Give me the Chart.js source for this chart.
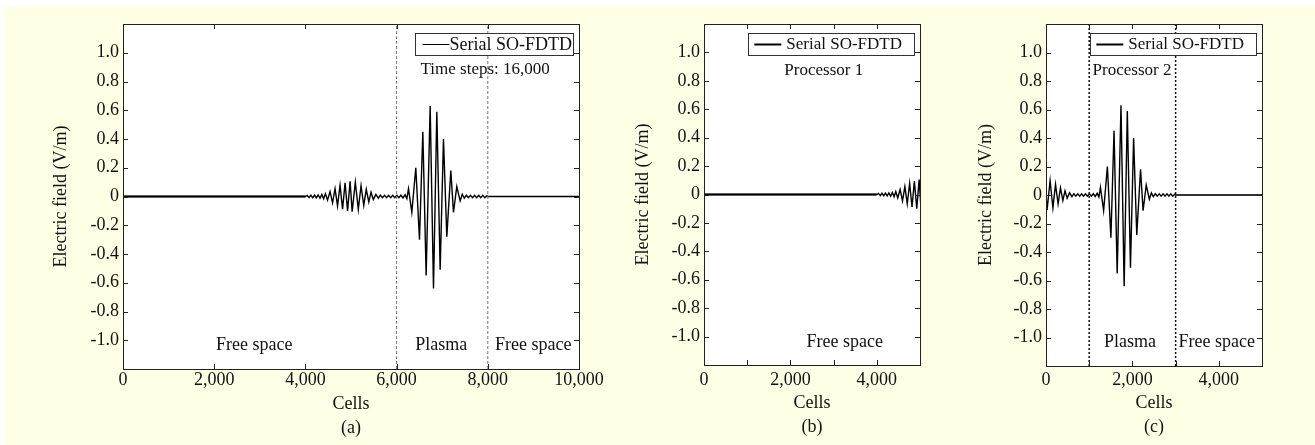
<!DOCTYPE html>
<html>
<head>
<meta charset="utf-8">
<script src="https://cdn.jsdelivr.net/npm/chart.js@4/dist/chart.umd.min.js"></script>
<style>
  html, body { margin: 0; padding: 0; background: #fff; }
  #page { position: relative; width: 1315px; height: 445px; overflow: hidden; }
  #paper { position: absolute; left: 4px; top: 7px; right: 0; bottom: 0; background: #ffffe6; }
  canvas { position: absolute; top: 0; }
</style>
</head>
<body>
<div id="page">
  <div id="paper"></div>
  <canvas id="pa" width="620" height="445" style="left:0px"></canvas>
  <canvas id="pb" width="320" height="445" style="left:620px"></canvas>
  <canvas id="pc" width="375" height="445" style="left:940px"></canvas>
</div>
<script>
// Serial SO-FDTD snapshot at time step 16,000 over the whole 10,000-cell grid
// (cell index, field value) at the wave extremes
const cells = [
  0, 4000, 4040, 4080, 4120, 4160, 4200, 4240, 4280, 4320, 4360, 4400, 4440,
  4485, 4540, 4595, 4650, 4705, 4760, 4815, 4870, 4925, 4980, 5025, 5095,
  5160, 5220, 5280, 5335, 5390, 5440, 5490, 5545, 5600, 5645, 5690, 5735,
  5780, 5825, 5870, 5915, 5960, 6005, 6050, 6095, 6140, 6185, 6225,
  6261, 6334, 6421, 6502, 6575, 6648, 6736, 6809, 6882, 6955, 7028, 7101,
  7189, 7247, 7320, 7393, 7440, 7485, 7530, 7575, 7620, 7665, 7710, 7755,
  7800, 7845, 7890, 7935, 7980, 8000, 10000
];
const field = [
  0, 0, 0.008, -0.008, 0.009, -0.009, 0.01, -0.01, 0.011, -0.012, 0.014, -0.016, 0.02,
  -0.025, 0.035, -0.045, 0.055, -0.065, 0.078, -0.088, 0.095, -0.1, 0.105, -0.105, 0.1,
  -0.09, 0.075, -0.062, 0.05, -0.038, 0.03, -0.022, 0.015, -0.012, 0.009, -0.008, 0.008,
  -0.008, 0.008, -0.008, 0.008, -0.008, 0.008, -0.008, 0.009, -0.01, 0.012, -0.015,
  0.054, -0.11, 0.2, -0.3, 0.45, -0.55, 0.63, -0.64, 0.59, -0.51, 0.4, -0.28,
  0.18, -0.11, 0.07, -0.03, 0.015, -0.012, 0.009, -0.008, 0.008, -0.008, 0.008, -0.008,
  0.008, -0.008, 0.008, -0.008, 0.005, 0, 0
];

// region boundaries (cells) for each panel
const boundsA = [6000, 8000];
const boundsC = [1000, 3000];

const yTickLabels = ['-1.0', '-0.8', '-0.6', '-0.4', '-0.2', '0', '0.2', '0.4', '0.6', '0.8', '1.0'];

const FONT = "'Liberation Serif', 'Times New Roman', Times, serif";
Chart.defaults.font.family = FONT;
Chart.defaults.font.size = 18;
Chart.defaults.color = '#111';

const framePlugin = {
  id: 'frame',
  beforeDraw(chart) {
    const { ctx, chartArea: a } = chart;
    ctx.save();
    ctx.fillStyle = '#fff';
    ctx.fillRect(a.left, a.top, a.right - a.left, a.bottom - a.top);
    ctx.restore();
  },
  afterDatasetsDraw(chart, args, o) {
    const { ctx, chartArea: a, scales: { x, y } } = chart;
    ctx.save();
    ctx.strokeStyle = '#222';
    ctx.lineWidth = 1;
    ctx.beginPath();
    x.ticks.forEach(t => {
      if (t.value <= x.min || t.value >= x.max) return;
      const px = Math.round(x.getPixelForValue(t.value)) + 0.5;
      ctx.moveTo(px, a.bottom); ctx.lineTo(px, a.bottom - 5);
      ctx.moveTo(px, a.top); ctx.lineTo(px, a.top + 5);
    });
    y.ticks.forEach(t => {
      if (t.value <= y.min + 1e-6 || t.value >= y.max - 1e-6) return;
      const py = Math.round(y.getPixelForValue(t.value)) + 0.5;
      ctx.moveTo(a.left, py); ctx.lineTo(a.left + 5, py);
      ctx.moveTo(a.right, py); ctx.lineTo(a.right - 5, py);
    });
    ctx.stroke();
    ctx.strokeRect(Math.round(a.left) + 0.5, Math.round(a.top) + 0.5,
      Math.round(a.right - a.left), Math.round(a.bottom - a.top));

    // region notes
    ctx.fillStyle = '#111';
    ctx.textAlign = 'center';
    ctx.textBaseline = 'middle';
    o.notes.forEach(n => {
      ctx.font = n.size + 'px ' + FONT;
      ctx.fillText(n.text, x.getPixelForValue(n.x), y.getPixelForValue(n.y));
    });

    // legend box
    const L = o.legend;
    ctx.font = L.size + 'px ' + FONT;
    const tw = ctx.measureText(L.text).width;
    const w = L.padL + L.sample + L.gap + tw + L.padR;
    const right = Math.round(a.right) - 6, top = Math.round(a.top) + 9, h = 22;
    const left = right - w;
    ctx.fillStyle = '#fff';
    ctx.fillRect(left, top, w, h);
    ctx.strokeStyle = '#333';
    ctx.lineWidth = 1;
    ctx.strokeRect(Math.round(left) + 0.5, top + 0.5, Math.round(w), h);
    ctx.strokeStyle = '#000';
    ctx.lineWidth = L.lineW;
    ctx.beginPath();
    ctx.moveTo(left + L.padL, top + h / 2 + 0.5);
    ctx.lineTo(left + L.padL + L.sample, top + h / 2 + 0.5);
    ctx.stroke();
    ctx.fillStyle = '#111';
    ctx.textAlign = 'left';
    ctx.fillText(L.text, left + L.padL + L.sample + L.gap, top + h / 2 + 1);
    ctx.restore();
  }
};

function makePanel(id, P) {
  const pts = [];
  cells.forEach((c, i) => {
    const xv = c - P.offset;
    if (xv >= -200 && xv <= P.xMax + 200) pts.push({ x: xv, y: field[i] });
  });
  const bold = pts.filter(p => p.x >= P.bold[0] && p.x <= P.bold[1]);
  const datasets = [
    { data: pts, borderColor: '#000', borderWidth: 1.4, pointRadius: 0, tension: 0, order: 2 },
    { data: bold, borderColor: P.boldColor, borderWidth: 2, pointRadius: 0, tension: 0, order: 1 }
  ];
  P.bounds.forEach(b => datasets.push({
    data: [{ x: b, y: -1.2 }, { x: b, y: 1.2 }],
    borderColor: P.boundColor, borderWidth: P.boundWidth, borderDash: P.boundDash,
    pointRadius: 0, order: 0
  }));

  new Chart(document.getElementById(id), {
    type: 'line',
    data: { datasets },
    options: {
      responsive: false,
      animation: false,
      events: [],
      layout: { padding: { left: 0, top: 24, right: P.padRight, bottom: 0 } },
      plugins: {
        legend: { display: false },
        tooltip: { enabled: false },
        frame: { notes: P.notes, legend: P.legend }
      },
      scales: {
        x: {
          type: 'linear', min: 0, max: P.xMax,
          afterFit: s => { s.height = P.xAxisH; },
          grid: { display: false, drawTicks: false },
          border: { display: false },
          ticks: {
            stepSize: P.xStep, autoSkip: false, maxRotation: 0, padding: P.xLabelPad,
            callback: v => (v % 2000 ? '' : v.toLocaleString('en-US'))
          },
          title: {
            display: true, text: ['Cells', P.caption],
            padding: { top: 0, bottom: P.captionPad },
            font: { size: 18, lineHeight: 24 / 18 }
          }
        },
        y: {
          type: 'linear', min: -1.2, max: 1.2,
          afterFit: s => { s.width = P.yAxisW; },
          grid: { display: false, drawTicks: false },
          border: { display: false },
          ticks: {
            stepSize: 0.2, autoSkip: false, padding: 4,
            callback: v => {
              const k = Math.round(v * 5) + 5;
              return k >= 0 && k < yTickLabels.length ? yTickLabels[k] : '';
            }
          },
          title: {
            display: true, text: 'Electric field (V/m)',
            padding: { top: P.yTitlePad, bottom: 0 }
          }
        }
      }
    },
    plugins: [framePlugin]
  });
}

makePanel('pa', {
  offset: 0, xMax: 10000, xStep: 2000,
  padRight: 41, xAxisH: 76, yAxisW: 123, xLabelPad: 0, captionPad: 5, yTitlePad: 50,
  caption: '(a)',
  bold: [0, 4000], boldColor: '#000',
  bounds: boundsA, boundColor: '#777', boundWidth: 1, boundDash: [3, 2],
  notes: [
    { text: 'Time steps: 16,000', x: 7942, y: 0.88, size: 17 },
    { text: 'Free space', x: 2877, y: -1.035, size: 18 },
    { text: 'Plasma', x: 6977, y: -1.035, size: 18 },
    { text: 'Free space', x: 8995, y: -1.035, size: 18 }
  ],
  legend: { text: 'Serial SO-FDTD', size: 18, padL: 8, sample: 27, gap: 0, padR: 1, lineW: 1 }
});

makePanel('pb', {
  offset: 0, xMax: 5000, xStep: 1000,
  padRight: 20, xAxisH: 80, yAxisW: 84, xLabelPad: 4, captionPad: 6, yTitlePad: 12,
  caption: '(b)',
  bold: [0, 4000], boldColor: '#000',
  bounds: [], boundColor: '#000', boundWidth: 1, boundDash: [2, 2],
  notes: [
    { text: 'Processor 1', x: 2772, y: 0.87, size: 17 },
    { text: 'Free space', x: 3257, y: -1.04, size: 18 }
  ],
  legend: { text: 'Serial SO-FDTD', size: 17, padL: 6, sample: 27, gap: 5, padR: 12, lineW: 2 }
});

makePanel('pc', {
  offset: 5000, xMax: 5000, xStep: 1000,
  padRight: 53, xAxisH: 79, yAxisW: 106, xLabelPad: 3, captionPad: 6, yTitlePad: 35,
  caption: '(c)',
  bold: [3000, 5000], boldColor: '#333',
  bounds: boundsC, boundColor: '#111', boundWidth: 1.5, boundDash: [2, 2],
  notes: [
    { text: 'Processor 2', x: 1991, y: 0.87, size: 17 },
    { text: 'Plasma', x: 1945, y: -1.035, size: 18 },
    { text: 'Free space', x: 3951, y: -1.035, size: 18 }
  ],
  legend: { text: 'Serial SO-FDTD', size: 17, padL: 6, sample: 27, gap: 5, padR: 12, lineW: 2 }
});
</script>
</body>
</html>
